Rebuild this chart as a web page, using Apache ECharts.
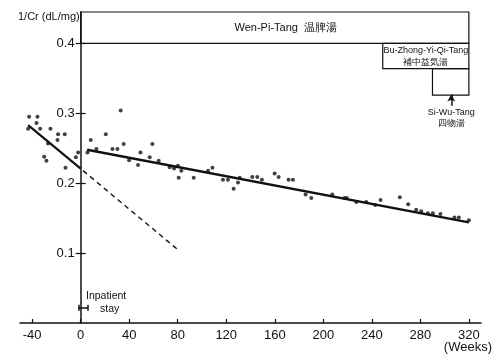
<!DOCTYPE html>
<html>
<head>
<meta charset="utf-8">
<script src="https://cdn.jsdelivr.net/npm/echarts@6/dist/echarts.min.js"></script>
<style>html,body{margin:0;padding:0;background:#fff}#c{width:494px;height:355px}</style>
</head>
<body>
<div id="c"></div>
<script>
// Pre-treatment observations (weeks, 1/Cr)
const preWeeks = [-42.5,-35.6,-36.4,-43.3,-33.4,-24.9,-18.6,-13.1,-19.1,-26.9,-30.1,-28.2,-12.5,-4.0,-2.1];
const preVals  = [0.295,0.295,0.286,0.278,0.278,0.278,0.270,0.270,0.262,0.257,0.238,0.232,0.222,0.237,0.244];
// Post-treatment observations
const postWeeks = [5.6,8.3,13.0,20.7,26.2,30.3,33.0,35.5,39.9,47.3,49.3,56.9,59.1,64.3,73.4,77,80.2,80.8,83,93.2,105,108.6,117.3,121.4,126.1,129.7,131.1,141.5,145.6,149.4,159.9,163.2,171.4,175,185.4,190.1,207.4,217.5,219.4,227.2,235.4,242.8,247.2,263.1,270,276.6,280.7,286.2,290.3,296.6,308.1,311.7,320];
const postVals  = [0.244,0.262,0.249,0.270,0.249,0.249,0.304,0.256,0.233,0.226,0.244,0.237,0.256,0.232,0.223,0.221,0.225,0.208,0.218,0.208,0.218,0.222,0.205,0.205,0.192,0.201,0.208,0.209,0.209,0.205,0.214,0.209,0.205,0.205,0.184,0.179,0.184,0.179,0.179,0.173,0.173,0.169,0.176,0.180,0.170,0.162,0.160,0.157,0.157,0.156,0.151,0.151,0.147];
// Regression lines (endpoints)
const preFitWeeks = [-43.3, 0];
const preFitVals  = [0.283, 0.221];
const extWeeks = [2, 80];
const extVals  = [0.218, 0.105];
const postFitWeeks = [5.3, 320];
const postFitVals  = [0.248, 0.144];
// Tick labels
const xTicks = [-40,0,40,80,120,160,200,240,280,320];
const yTicks = [0.1,0.2,0.3,0.4];
// Treatment periods [startWeek, endWeek, low, high]
const wenPi = [0, 320, 0.4, 0.445];
const buZhong = [249, 320, 0.364, 0.4];
const siWu = [290, 320, 0.326, 0.364];
const siWuArrow = [305.5, 0.311, 0.327];
const inpatient = [-1.8, 6.1, 0.0223, 0.0176, 0.026];

const zip = (a,b) => a.map((v,i)=>[v,b[i]]);
const font = 'Liberation Sans, Arial, sans-serif';
const ink = '#111';

// pixel geometry of the plot
const X_MIN = -50, X_MAX = 330, Y_MAX = 0.445;
const L = 20, R = 13, T = 12, B = 32;
const pxPerWeek = (494 - L - R) / (X_MAX - X_MIN);
const yAxisLeft = L + (0 - X_MIN) * pxPerWeek;

const chart = echarts.init(document.getElementById('c'));
chart.setOption({
  animation: false,
  backgroundColor: '#fff',
  grid: [
    {left: L, right: R, top: T, bottom: B, outerBoundsMode: 'none', containLabel: false},
    {left: yAxisLeft, right: R, top: T, bottom: B, outerBoundsMode: 'none', containLabel: false}
  ],
  xAxis: [{
    gridIndex: 0, type: 'value', min: X_MIN, max: X_MAX,
    axisLine: {onZero: false, lineStyle: {color: ink, width: 1.5}},
    axisTick: {show: true, inside: true, length: 4, customValues: xTicks, lineStyle: {color: ink, width: 1.2}},
    axisLabel: {customValues: xTicks, fontSize: 13, color: ink, fontFamily: font, margin: 6},
    splitLine: {show: false}
  },{
    gridIndex: 1, type: 'value', min: 0, max: X_MAX, show: false
  }],
  yAxis: [{
    gridIndex: 0, type: 'value', min: 0, max: Y_MAX, show: false
  },{
    gridIndex: 1, type: 'value', min: 0, max: Y_MAX, position: 'left',
    axisLine: {show: true, onZero: false, lineStyle: {color: ink, width: 1.5}},
    axisTick: {show: true, length: 5, customValues: yTicks, lineStyle: {color: ink, width: 1.2}},
    axisLabel: {customValues: yTicks, formatter: v => v.toFixed(1), fontSize: 13, color: ink, fontFamily: font, margin: 6},
    splitLine: {show: false}
  },{
    gridIndex: 1, type: 'value', min: 0, max: Y_MAX, position: 'left',
    axisLine: {show: false, onZero: false},
    axisTick: {show: true, inside: true, length: 5, customValues: yTicks, lineStyle: {color: ink, width: 1.2}},
    axisLabel: {show: false},
    splitLine: {show: false}
  }],
  graphic: [
    {type: 'text', left: 18, top: 11, style: {text: '1/Cr (dL/mg)', font: '11px ' + font, fill: ink}},
    {type: 'text', right: 2, top: 341, style: {text: '(Weeks)', font: '13px ' + font, fill: ink}},
    {type: 'text', left: 86, top: 291, style: {text: 'Inpatient', font: '10.5px ' + font, fill: ink}},
    {type: 'text', left: 100, top: 304, style: {text: 'stay', font: '10.5px ' + font, fill: ink}}
  ],
  series: [
    {type: 'scatter', data: zip(preWeeks, preVals), symbolSize: 4, itemStyle: {color: ink}},
    {type: 'scatter', data: zip(postWeeks, postVals), symbolSize: 4, itemStyle: {color: ink}},
    {type: 'line', data: zip(preFitWeeks, preFitVals), symbol: 'none', lineStyle: {color: ink, width: 2.2}},
    {type: 'line', data: zip(extWeeks, extVals), symbol: 'none', lineStyle: {color: ink, width: 1.4, type: [5, 4]}},
    {type: 'line', data: zip(postFitWeeks, postFitVals), symbol: 'none', lineStyle: {color: ink, width: 2.5},
     markArea: {
       silent: true,
       itemStyle: {color: 'rgba(255,255,255,0)', borderColor: ink, borderWidth: 1.2},
       data: [
         [{coord: [wenPi[0], wenPi[3]], name: 'Wen-Pi-Tang  温脾湯',
           label: {show: true, position: 'inside', offset: [11, 0], fontSize: 11, color: ink, fontFamily: font}},
          {coord: [wenPi[1], wenPi[2]]}],
         [{coord: [buZhong[0], buZhong[3]], name: 'Bu-Zhong-Yi-Qi-Tang\n補中益気湯',
           label: {show: true, position: 'inside', fontSize: 9, lineHeight: 12, color: ink, fontFamily: font}},
          {coord: [buZhong[1], buZhong[2]]}],
         [{coord: [siWu[0], siWu[3]], label: {show: false}}, {coord: [siWu[1], siWu[2]]}]
       ]
     },
     markLine: {
       silent: true, animation: false,
       symbol: 'none',
       lineStyle: {color: ink, width: 1.5, type: 'solid'},
       label: {show: false},
       data: [
         [{coord: [siWuArrow[0], siWuArrow[1]], symbol: 'none',
           label: {show: true, position: 'start', formatter: 'Si-Wu-Tang\n四物湯', fontSize: 9, lineHeight: 11, color: ink, fontFamily: font, distance: 1}},
          {coord: [siWuArrow[0], siWuArrow[2]], symbol: 'arrow', symbolSize: [6, 7]}],
         [{coord: [inpatient[0], inpatient[2]]}, {coord: [inpatient[1], inpatient[2]]}],
         [{coord: [inpatient[0], inpatient[3]]}, {coord: [inpatient[0], inpatient[4]]}],
         [{coord: [inpatient[1], inpatient[3]]}, {coord: [inpatient[1], inpatient[4]]}]
       ]
     }
    }
  ]
});
</script>
</body>
</html>
